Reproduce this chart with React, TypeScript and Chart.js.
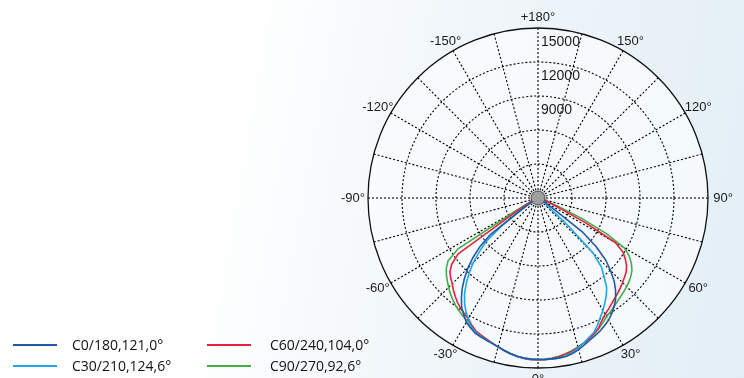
import React, { useEffect, useRef } from 'react';
import Chart from 'chart.js/auto';

// Luminous intensity (cd) per gamma angle, gamma from -90 to +90 in 2.5 degree steps
const GAMMA_MIN = -90;
const GAMMA_MAX = 90;
const GAMMA_STEP = 2.5;

const SERIES_LABELS = ['C0/180,121,0°', 'C30/210,124,6°', 'C60/240,104,0°', 'C90/270,92,6°'];
const SERIES_COLORS = ['#2358a8', '#1ea8e8', '#e5213f', '#45ad45'];

const C0_180 = [
  50, 80, 100, 130, 160, 200, 240, 280, 320, 370, 420, 480, 560, 800, 1800, 5300, 6700, 7800, 8750, 9600,
  10400, 11100, 11750, 12200, 12650, 12900, 13150, 13250, 13350, 13450, 13600, 13780, 13950, 14080, 14180, 14230,
  14250,
  14250, 14250, 14230, 14200, 14050, 13850, 13600, 13350, 13150, 12950, 12700, 12450, 12100, 11700, 11250, 10650,
  9950, 9050, 8100, 6700, 5000, 1700, 800, 560, 480, 420, 370, 320, 280, 240, 200, 160, 130, 100, 80, 50,
];
const C30_210 = [
  50, 70, 90, 110, 140, 170, 200, 240, 280, 320, 370, 430, 500, 700, 1400, 4000, 6000, 7000, 8100, 9000,
  9850, 10650, 11300, 11850, 12300, 12800, 13050, 13200, 13320, 13450, 13600, 13780, 13950, 14100, 14200, 14250,
  14250,
  14270, 14280, 14250, 14150, 13950, 13700, 13420, 13100, 12850, 12400, 11900, 11450, 10980, 10500, 9950, 9050,
  8300, 6900, 3500, 1200, 700, 500, 430, 370, 320, 280, 240, 200, 170, 140, 110, 90, 70, 60, 50, 40,
];
const C60_240 = [
  60, 100, 130, 170, 210, 260, 310, 370, 440, 520, 620, 800, 1300, 2500, 8600, 9600, 10150, 10450, 10700, 11050,
  11350, 11650, 11900, 12100, 12300, 12650, 12950, 13100, 13250, 13420, 13600, 13780, 13950, 14100, 14220, 14280,
  14300,
  14280, 14220, 14120, 14000, 13850, 13650, 13450, 13200, 12950, 12650, 12200, 11850, 11600, 11350, 11130, 10950,
  10750, 10550, 10350, 10150, 9850, 9400, 8900, 7900, 4700, 2000, 1100, 700, 500, 400, 320, 260, 200, 150, 100, 60,
];
const C90_270 = [
  60, 100, 130, 170, 210, 260, 310, 370, 440, 520, 650, 900, 2200, 8400, 9700, 10200, 10550, 10850, 11150, 11450,
  11700, 11950, 12150, 12350, 12500, 12800, 13000, 13150, 13280, 13420, 13600, 13780, 13950, 14080, 14180, 14230,
  14250,
  14230, 14180, 14080, 13950, 13800, 13600, 13400, 13150, 12950, 12720, 12400, 12100, 11900, 11700, 11500, 11350,
  11200, 11050, 10900, 10700, 10450, 10050, 9550, 8800, 6800, 4300, 1800, 900, 650, 500, 400, 320, 250, 180, 120, 60,
];
const SERIES_VALUES = [C0_180, C30_210, C60_240, C90_270];

// Radial axis
const R_MAX = 15000;
const R_STEP = 3000;
const RING_LABEL_VALUES = [15000, 12000, 9000];
const RING_LABELS = ['15000', '12000', '9000'];

// Angle axis
const SPOKE_EVERY = 15;
const ANGLE_TICKS = [180, 150, 120, 90, 60, 30, 0, -30, -60, -90, -120, -150];
const ANGLE_TICK_LABELS = ['+180°', '150°', '120°', '90°', '60°', '30°', '0°', '-30°', '-60°', '-90°', '-120°', '-150°'];

const LABEL_FONT = '13px "Liberation Sans", Arial, sans-serif';
const RING_FONT = '14px "Liberation Sans", Arial, sans-serif';
const LEGEND_FONT = '14px "Open Sans", "Noto Sans", sans-serif';

export default function App() {
  const ref = useRef<HTMLCanvasElement>(null);

  useEffect(() => {
    const canvas = ref.current;
    if (!canvas) return;
    const nLabels = Math.round(360 / GAMMA_STEP);
    const labels: string[] = [];
    for (let i = 0; i < nLabels; i++) labels.push(String(180 - i * GAMMA_STEP));
    const gammaAt = (i: number) => 180 - i * GAMMA_STEP;
    const indexOf = (g: number) => ((Math.round((180 - g) / GAMMA_STEP) % nLabels) + nLabels) % nLabels;
    const toRadar = (vals: number[]) =>
      labels.map((_, i) => {
        const g = gammaAt(i);
        if (g < GAMMA_MIN || g > GAMMA_MAX) return 0;
        return vals[Math.round((g - GAMMA_MIN) / GAMMA_STEP)];
      });

    const overlay = {
      id: 'overlay',
      afterDatasetsDraw(chart: any) {
        const s = chart.scales.r;
        const ctx = chart.ctx as CanvasRenderingContext2D;
        ctx.save();
        // hub
        ctx.beginPath();
        ctx.arc(s.xCenter, s.yCenter, 7, 0, Math.PI * 2);
        ctx.fillStyle = '#9e9e9e';
        ctx.fill();
        ctx.lineWidth = 1;
        ctx.strokeStyle = '#4a4a4a';
        ctx.stroke();
        // ring labels
        ctx.font = RING_FONT;
        ctx.fillStyle = '#1a1a1a';
        ctx.textAlign = 'left';
        ctx.textBaseline = 'top';
        RING_LABEL_VALUES.forEach((v, k) => {
          const d = s.getDistanceFromCenterForValue(v);
          ctx.fillText(RING_LABELS[k], s.xCenter + 3, s.yCenter - d + 7);
        });
        // angle labels (slightly elliptical placement round the outer ring)
        ctx.font = LABEL_FONT;
        ctx.textAlign = 'center';
        ctx.textBaseline = 'middle';
        const rx = s.drawingArea + 15;
        const ry = s.drawingArea + 11;
        ANGLE_TICKS.forEach((g, k) => {
          const p = s.getPointPosition(indexOf(g), 1);
          const ux = p.x - s.xCenter;
          const uy = p.y - s.yCenter;
          ctx.fillText(ANGLE_TICK_LABELS[k], s.xCenter + ux * rx, s.yCenter + uy * ry);
        });
        // legend (2 columns x 2 rows)
        ctx.font = LEGEND_FONT;
        ctx.textAlign = 'left';
        ctx.textBaseline = 'middle';
        const colX = [13, 207];
        const textX = [72, 270];
        const rowY = [345, 366];
        chart.data.datasets.forEach((ds: any, k: number) => {
          const col = Math.floor(k / 2);
          const row = k % 2;
          ctx.strokeStyle = ds.borderColor;
          ctx.lineWidth = 2;
          ctx.setLineDash([]);
          ctx.beginPath();
          ctx.moveTo(colX[col], rowY[row]);
          ctx.lineTo(colX[col] + 44, rowY[row]);
          ctx.stroke();
          ctx.fillStyle = '#111';
          ctx.fillText(ds.label, textX[col], rowY[row] + 1);
        });
        ctx.restore();
      },
    };

    const chart = new Chart(canvas, {
      type: 'radar',
      data: {
        labels,
        datasets: SERIES_VALUES.map((vals, k) => ({
          label: SERIES_LABELS[k],
          data: toRadar(vals),
          borderColor: SERIES_COLORS[k],
          backgroundColor: 'transparent',
          borderWidth: 1.6,
          fill: false,
          pointRadius: 0,
          pointHoverRadius: 0,
          tension: 0,
          borderJoinStyle: 'round',
        })),
      },
      options: {
        responsive: false,
        devicePixelRatio: 1,
        animation: false,
        events: [],
        layout: { padding: { left: 368, right: 36, top: 28, bottom: 10 } },
        plugins: { legend: { display: false }, tooltip: { enabled: false } },
        scales: {
          r: {
            min: 0,
            max: R_MAX,
            startAngle: 0,
            backgroundColor: 'rgba(250,252,254,0.75)',
            ticks: { stepSize: R_STEP, display: false },
            pointLabels: { display: false },
            grid: {
              circular: true,
              color: (c: any) => (c.tick && c.tick.value === R_MAX ? '#111' : '#000'),
              lineWidth: (c: any) => (c.tick && c.tick.value === R_MAX ? 1.3 : 1.1),
            },
            border: {
              dash: (c: any) => (c.tick && c.tick.value === R_MAX ? [] : [2, 2]),
            },
            angleLines: {
              display: true,
              color: (c: any) => (Math.abs(gammaAt(c.index)) % SPOKE_EVERY === 0 ? '#000' : 'rgba(0,0,0,0)'),
              lineWidth: (c: any) => (Math.abs(gammaAt(c.index)) % SPOKE_EVERY === 0 ? 1.1 : 0),
              borderDash: [2, 2],
            },
          },
        },
      },
      plugins: [overlay],
    } as any);
    return () => chart.destroy();
  }, []);

  return (
    <div
      style={{
        position: 'fixed',
        left: 0,
        top: 0,
        width: 744,
        height: 378,
        background: 'linear-gradient(100deg, #ffffff 0%, #ffffff 30%, #f0f6fa 60%, #e3eef6 100%)',
      }}
    >
      <canvas ref={ref} width={744} height={378} style={{ display: 'block', width: 744, height: 378 }} />
    </div>
  );
}
